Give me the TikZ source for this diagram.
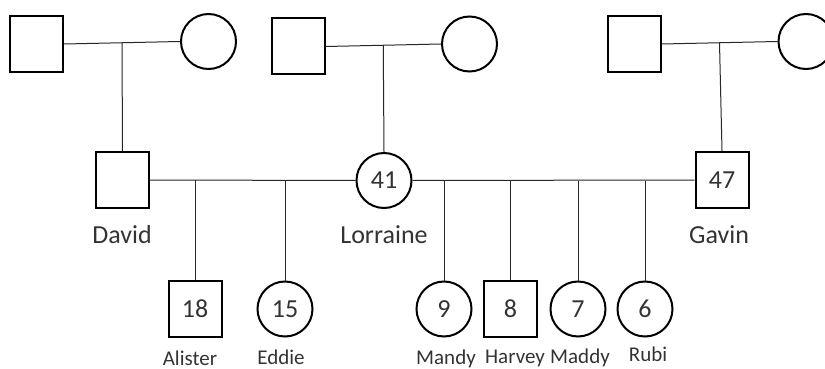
\documentclass[tikz,border=0pt]{standalone}
\usepackage{fontspec}
\setmainfont{Carlito}
\usetikzlibrary{calc}
\tikzset{
  male/.style={draw=black, line width=2pt, rectangle, minimum width=53pt, minimum height=56pt, inner sep=0pt, text=black!80, font=\fontsize{26}{30}\selectfont},
  female/.style={draw=black, line width=2pt, circle, minimum size=55pt, inner sep=0pt, text=black!80, font=\fontsize{26}{30}\selectfont},
  conn/.style={draw=black!85, line width=1pt},
  bigname/.style={anchor=base, text=black!80, font=\fontsize{26}{30}\selectfont, inner sep=0pt},
  smallname/.style={anchor=base, text=black!80, font=\fontsize{21}{25}\selectfont, inner sep=0pt}
}
\begin{document}
\begin{tikzpicture}[x=1pt,y=-1pt]
\useasboundingbox (0,0) rectangle (825,369);
% top generation
\node[male] (s1) at (36.5,44) {};
\node[female] (c1) at (208.5,41.5) {};
\node[male] (s2) at (298,46.5) {};
\node[female] (c2) at (469.5,44) {};
\node[male] (s3) at (634,44) {};
\node[female] (c3) at (806,41.5) {};
% middle generation
\node[male] (david) at (122.5,180) {};
\node[female] (lorraine) at (384,180.5) {41};
\node[male] (gavin) at (722,180) {47};
\node[bigname] (ldavid) at (122,243) {David};
\node[bigname] (llorraine) at (384,243) {Lorraine};
\node[bigname] (lgavin) at (719,243) {Gavin};
% children
\node[male] (alister) at (195,309) {18};
\node[female] (eddie) at (285,309) {15};
\node[female] (mandy) at (444,309) {9};
\node[male] (harvey) at (510.5,309) {8};
\node[female] (maddy) at (578,309) {7};
\node[female] (rubi) at (645,309) {6};
\node[smallname] (lalister) at (190,365) {Alister};
\node[smallname] (leddie) at (281,364) {Eddie};
\node[smallname] (lmandy) at (446,364) {Mandy};
\node[smallname] (lharvey) at (515,363) {Harvey};
\node[smallname] (lmaddy) at (580,363) {Maddy};
\node[smallname] (lrubi) at (648,361) {Rubi};
% marriage lines top
\draw[conn] (s1.east) -- (c1.west);
\draw[conn] (s2.east) -- (c2.west);
\draw[conn] (s3.east) -- (c3.west);
\coordinate (m1) at ($(s1.east)!0.5!(c1.west)$);
\coordinate (m2) at ($(s2.east)!0.5!(c2.west)$);
\coordinate (m3) at ($(s3.east)!0.5!(c3.west)$);
\draw[conn] (m1) -- (david.north);
\draw[conn] (m2) -- (lorraine.north);
\draw[conn] (m3) -- (gavin.north);
% middle marriage lines
\draw[conn] (david.east) -- (lorraine.west);
\draw[conn] (lorraine.east) -- (gavin.west);
\draw[conn] (alister.north |- david.east) -- (alister.north);
\draw[conn] (eddie.north |- david.east) -- (eddie.north);
\draw[conn] (mandy.north |- lorraine.east) -- (mandy.north);
\draw[conn] (harvey.north |- lorraine.east) -- (harvey.north);
\draw[conn] (maddy.north |- lorraine.east) -- (maddy.north);
\draw[conn] (rubi.north |- lorraine.east) -- (rubi.north);
\end{tikzpicture}
\end{document}
